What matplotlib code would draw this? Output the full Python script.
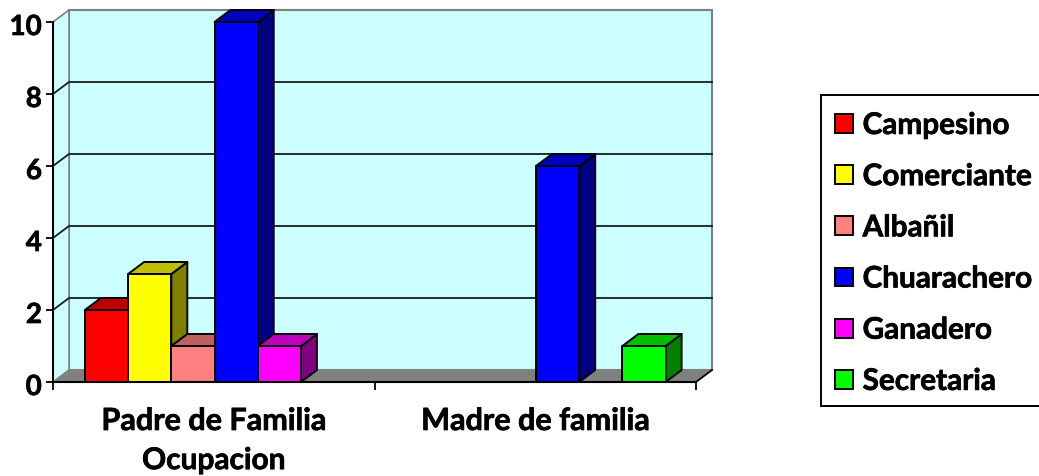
#!/usr/bin/env python3

import matplotlib
matplotlib.use("Agg")
import matplotlib.patheffects as pe
import matplotlib.pyplot as plt
from matplotlib.colors import to_rgb
from matplotlib.patches import Patch, Polygon, Rectangle
from matplotlib.transforms import ScaledTranslation

categories = ["Padre de Familia", "Madre de familia"]
series_names = ["Campesino", "Comerciante", "Albañil", "Chuarachero", "Ganadero", "Secretaria"]
campesino = [2, 0]
comerciante = [3, 0]
albanil = [1, 0]
chuarachero = [10, 6]
ganadero = [1, 0]
secretaria = [0, 1]
series_values = [campesino, comerciante, albanil, chuarachero, ganadero, secretaria]
colors = ["#FF0000", "#FFFF00", "#FF8080", "#0000FF", "#FF00FF", "#00FF00"]

plt.rcParams["font.family"] = ["Lato", "DejaVu Sans"]
plt.rcParams["font.weight"] = "bold"

W, H = 1039, 476
fig = plt.figure(figsize=(W / 100, H / 100), dpi=100)
ax = fig.add_axes([53 / W, 1 - 382 / H, 643 / W, 360 / H])
ax.set_xlim(0, 2)
ax.set_ylim(0, 10)

# depth of the fake 3d box, in data units
dx = 16 / 643 * 2
dy = 12 / 36
bar_w = 43.2 / 643 * 2
start = 0.5 - 3 * bar_w + 1.5 / 643

heavier = [pe.withStroke(linewidth=0.5, foreground="black")]


def shade(color, k):
    return tuple(c * k for c in to_rgb(color))


def poly(points, **kw):
    ax.add_patch(Polygon(points, closed=True, clip_on=False, **kw))


# walls and floor
wall = "#CCFFFF"
poly([(dx, dy), (2 + dx, dy), (2 + dx, 10 + dy), (dx, 10 + dy)], facecolor=wall, edgecolor="#808080", lw=1.5, zorder=1)
poly([(0, 0), (dx, dy), (dx, 10 + dy), (0, 10)], facecolor=wall, edgecolor="#808080", lw=1.2, zorder=1)
poly([(0, 0), (2, 0), (2 + dx, dy), (dx, dy)], facecolor="#808080", edgecolor="none", zorder=1.5)

for v in [2, 4, 6, 8]:
    ax.plot([0, dx, 2 + dx], [v, v + dy, v + dy], color="#1a1a1a", lw=1.3, clip_on=False, zorder=2)
ax.plot([2, 2 + dx], [0, dy], color="black", lw=1.3, clip_on=False, zorder=2)

# bars, painted left to right so the next bar hides the side of the last
z = 3
for g in range(len(categories)):
    for i, vals in enumerate(series_values):
        v = vals[g]
        if v == 0:
            continue
        x0 = g + start + i * bar_w
        x1 = x0 + bar_w
        edge = dict(edgecolor="black", lw=1.4, joinstyle="round")
        poly([(x1, 0), (x1 + dx, dy), (x1 + dx, v + dy), (x1, v)], facecolor=shade(colors[i], 0.5), zorder=z, **edge)
        poly([(x0, v), (x1, v), (x1 + dx, v + dy), (x0 + dx, v + dy)], facecolor=shade(colors[i], 0.75), zorder=z, **edge)
        ax.bar(x0, v, width=bar_w, align="edge", color=colors[i], zorder=z, clip_on=False, **edge)
        z += 1

for side in ["top", "right"]:
    ax.spines[side].set_visible(False)
for side in ["left", "bottom"]:
    ax.spines[side].set_linewidth(1.5)
    ax.spines[side].set_zorder(20)

ax.set_yticks([0, 2, 4, 6, 8, 10])
ax.set_xticks([0, 1, 2])
ax.set_xticklabels([])
ax.set_xticks([0.5, 1.5], minor=True)
ax.set_xticklabels(categories, minor=True, fontsize=22, fontweight="bold")
ax.tick_params(axis="x", which="minor", length=0, pad=18)
ax.tick_params(axis="x", which="major", length=6, width=1.3)
ax.tick_params(axis="y", length=5, width=1.3, labelsize=20, pad=3)
ax.set_xlabel("Ocupacion", x=0.25, fontsize=21.5, fontweight="bold", labelpad=8)

# labels sit a little under their ticks in the original
down = ScaledTranslation(0, -2.5 / 100, fig.dpi_scale_trans)
for label in ax.get_yticklabels():
    label.set_transform(label.get_transform() + down)
    label.set_path_effects(heavier)
for label in ax.get_xticklabels(minor=True):
    label.set_path_effects(heavier)
ax.xaxis.label.set_path_effects(heavier)

# legend box runs off the right edge of the picture
fig.add_artist(Rectangle((821 / W, 1 - 406 / H), 240 / W, 311 / H, transform=fig.transFigure,
                         facecolor="white", edgecolor="black", lw=1.4))
handles = [Patch(facecolor=c, edgecolor="black", linewidth=1.4) for c in colors]
leg = fig.legend(
    handles,
    series_names,
    loc="upper left",
    bbox_to_anchor=(821 / W, 1 - 97 / H),
    borderaxespad=0,
    fontsize=21.4,
    frameon=False,
    handlelength=0.6,
    handleheight=0.6,
    handletextpad=0.33,
    labelspacing=0.78,
    borderpad=0.47,
)
for text in leg.get_texts():
    text.set_path_effects(heavier)

fig.savefig("out.png", dpi=100)
